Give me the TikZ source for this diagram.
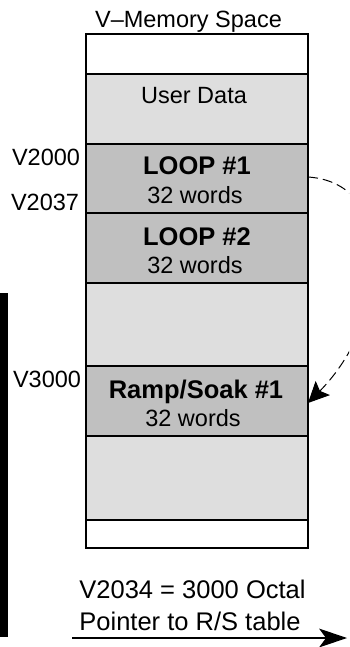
\documentclass[tikz,border=0pt]{standalone}
\usepackage{fontspec}
\setmainfont{Liberation Sans}
\usetikzlibrary{arrows.meta}
\definecolor{lightg}{RGB}{222,222,222}
\definecolor{midg}{RGB}{192,192,192}
\tikzset{
  cell/.style={draw=black, line width=1.2pt},
  txt/.style={anchor=base, inner sep=0pt, font=\fontsize{23.5}{26}\selectfont},
  btxt/.style={anchor=base, inner sep=0pt, font=\fontsize{25.5}{28}\selectfont\bfseries},
  ttl/.style={anchor=base, inner sep=0pt, font=\fontsize{23.5}{26}\selectfont},
  btm/.style={anchor=base, inner sep=0pt, font=\fontsize{25.5}{28}\selectfont},
}
\begin{document}
\begin{tikzpicture}[x=1pt,y=-1pt]
\useasboundingbox (0,0) rectangle (349,647);
% memory cells
\path[cell, fill=white] (86,34) rectangle (308,74);
\path[cell, fill=lightg] (86,74) rectangle (308,144);
\path[cell, fill=midg] (86,144) rectangle (308,213);
\path[cell, fill=midg] (86,213) rectangle (308,283);
\path[cell, fill=lightg] (86,283) rectangle (308,366);
\path[cell, fill=midg] (86,366) rectangle (308,436);
\path[cell, fill=lightg] (86,436) rectangle (308,520);
\path[cell, fill=white] (86,520) rectangle (308,548);
% texts
\node[ttl] (title) at (188.5,27.5) {V–Memory Space};
\node[txt] (ud) at (194,103.3) {User Data};
\node[btxt] (l1) at (197,175) {LOOP \#1};
\node[txt] (w1) at (195,203) {32 words};
\node[btxt] (l2) at (197,245) {LOOP \#2};
\node[txt] (w2) at (195,273.3) {32 words};
\node[btxt] (rs) at (196,398.3) {Ramp/Soak \#1};
\node[txt] (w3) at (193,426) {32 words};
\node[txt] (a1) at (46,165.7) {V2000};
\node[txt] (a2) at (45,210) {V2037};
\node[txt] (a3) at (47,387.3) {V3000};
\node[btm] (b1) at (192.5,598.3) {V2034 = 3000 Octal};
\node[btm] (b2) at (190,630) {Pointer to R/S table};
% black bar
\fill[black] (0,293) rectangle (8,637);
% dashed pointer curve
\coordinate (cs) at (308,177);
\coordinate (ce) at (308,403);
\begin{scope}
\clip (0,0) rectangle (349,647);
\draw[line width=1pt, dash pattern=on 10pt off 5pt, -{Stealth[length=21pt,width=20pt,inset=4pt]}]
  (cs) .. controls (400,183) and (390,320) .. (ce);
\end{scope}
% bottom arrow
\coordinate (as) at (72,638);
\coordinate (ae) at (326,638);
\coordinate (tip) at (347,638);
\draw[line width=1.3pt] (as) -- (ae);
\fill[black] (tip) -- (319,628.5) -- (326,638) -- (319,647.5) -- cycle;
\end{tikzpicture}
\end{document}
